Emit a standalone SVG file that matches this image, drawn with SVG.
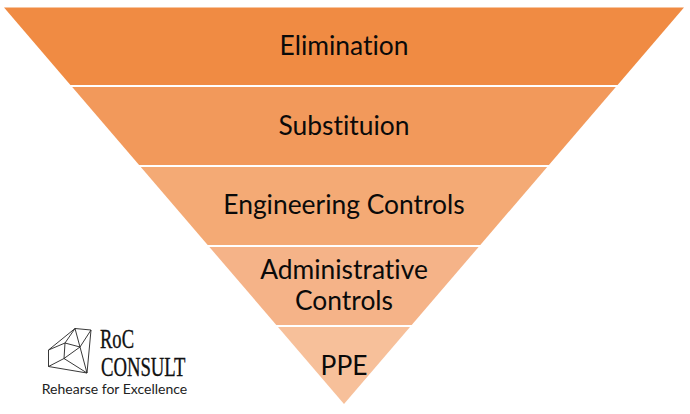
<svg xmlns="http://www.w3.org/2000/svg" width="690" height="414" viewBox="0 0 690 414">
<style>
text{font-family:"Lato","Open Sans",sans-serif;fill:#0a0a0a;text-anchor:middle;font-variant-ligatures:none}
.l{font-size:26.4px}
.b{font-family:"Liberation Serif",serif;font-size:27.5px;text-anchor:start;fill:#111;stroke:#111;stroke-width:.35}
.t{font-size:14px;fill:#222}
.d{fill:none;stroke:#222;stroke-width:.9;stroke-linejoin:round}
</style>
<rect width="690" height="414" fill="#fff"/>
<g id="elimination"><polygon points="4,7.5 684,7.5 617.6,85 70.4,85" fill="#f08b43"/><text class="l" x="344" y="55">Elimination</text></g>
<g id="substitution"><polygon points="72.2,87 615.8,87 548.9,165 139.1,165" fill="#f2995b"/><text class="l" x="344" y="135">Substituion</text></g>
<g id="engineering"><polygon points="140.8,167 547.2,167 480.3,245 207.7,245" fill="#f4aa75"/><text class="l" x="344" y="214">Engineering Controls</text></g>
<g id="administrative"><polygon points="209.4,247 478.6,247 411.7,325 276.3,325" fill="#f5b388"/><text class="l" x="344" y="279">Administrative</text><text class="l" x="344" y="310">Controls</text></g>
<g id="ppe"><polygon points="278,327 410,327 344,404" fill="#f7c09a"/><text class="l" x="344" y="375">PPE</text></g>
<g id="logo">
<path class="d" d="M75,328.5 L91,330 L87,373 L48.5,366.5 L48.5,350 Z M75,328.5 L65,343 L48.5,350 M65,343 L80,347 L91,330 M75,328.5 L80,347 L87,373 M65,343 L64,358.5 L48.5,366.5 M64,358.5 L80,347 M64,358.5 L87,373"/>
<text class="b" x="100" y="348" textLength="34" lengthAdjust="spacingAndGlyphs">RoC</text>
<text class="b" x="101" y="376" textLength="84.5" lengthAdjust="spacingAndGlyphs">CONSULT</text>
<text class="t" x="114.5" y="394">Rehearse for Excellence</text>
</g>
</svg>
